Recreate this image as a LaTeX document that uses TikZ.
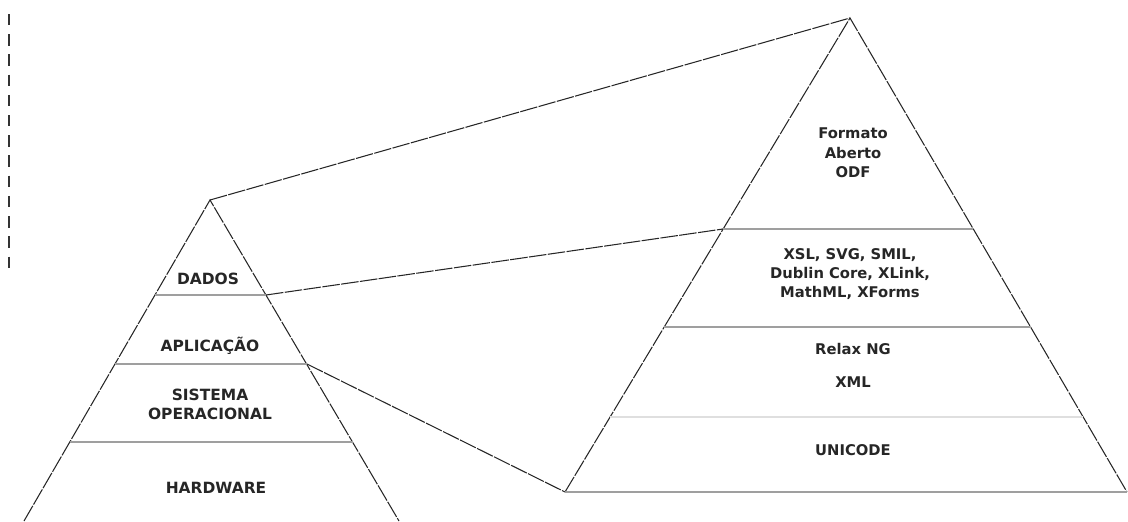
\documentclass[tikz,border=0pt]{standalone}
\usepackage{fontspec}
\setsansfont{DejaVu Sans}
\usetikzlibrary{positioning}

\tikzset{
  side/.style={black!85, line width=0.6pt, dash pattern=on 10pt off 0.8pt},
  layer/.style={gray!75, line width=1.1pt},
  faint/.style={gray!25, line width=0.8pt},
  link/.style={black!85, line width=0.6pt, dash pattern=on 10pt off 0.8pt},
  lefttxt/.style={font=\sffamily\bfseries\fontsize{8.8}{10.8}\selectfont, align=center, text=black!85},
  righttxt/.style={font=\sffamily\bfseries\fontsize{8.4}{11}\selectfont, align=center, text=black!85},
}

\begin{document}
\begin{tikzpicture}[x=0.2mm, y=-0.2mm]
\useasboundingbox (0,0) rectangle (1128,521);
% --- margin mark ---
\coordinate (mtop) at (9,14);
\coordinate (mbot) at (9,272);
\draw[black!80, line width=0.8pt, dash pattern=on 6.5pt off 5pt] (mtop) -- (mbot);
% --- left pyramid ---
\coordinate (la) at (210,200);
\coordinate (lfl) at (24,521);
\coordinate (lfr) at (399,521);
\draw[side] (lfl) -- (la) -- (lfr);
\coordinate (l1l) at (155,295);
\coordinate (l1r) at (266,295);
\coordinate (l2l) at (115,364);
\coordinate (l2r) at (307,364);
\coordinate (l3l) at (70,442);
\coordinate (l3r) at (353,442);
\draw[layer] (l1l) -- (l1r);
\draw[layer] (l2l) -- (l2r);
\draw[layer] (l3l) -- (l3r);
\node[lefttxt] (dados) at (208,279) {DADOS};
\node[lefttxt] (aplic) at (210,346) {APLICAÇÃO};
\node[lefttxt] (so) at (210,404) {SISTEMA\\OPERACIONAL};
\node[lefttxt] (hw) at (216,488) {HARDWARE};
% --- right pyramid ---
\coordinate (ra) at (850,18);
\coordinate (rfl) at (565,492);
\coordinate (rfr) at (1127,492);
\draw[side] (rfl) -- (ra) -- (rfr);
\coordinate (r1l) at (723,229);
\coordinate (r1r) at (973,229);
\coordinate (r2l) at (664,327);
\coordinate (r2r) at (1031,327);
\coordinate (r3l) at (610,417);
\coordinate (r3r) at (1083,417);
\draw[layer] (r1l) -- (r1r);
\draw[layer] (r2l) -- (r2r);
\draw[faint] (r3l) -- (r3r);
\draw[layer] (rfl) -- (rfr);
\node[righttxt] (odf) at (853,153) {Formato\\Aberto\\ODF};
\node[righttxt] (xsl) at (850,274) {XSL, SVG, SMIL,\\Dublin Core, XLink,\\MathML, XForms};
\node[righttxt] (relax) at (853,349) {Relax NG};
\node[righttxt, below=0.66cm of relax.center, anchor=center] (xml) {XML};
\node[righttxt] (uni) at (853,450) {UNICODE};
% --- links between the pyramids ---
\draw[link] (la) -- (ra);
\draw[link] (l1r) -- (r1l);
\draw[link] (l2r) -- (rfl);
\end{tikzpicture}
\end{document}
